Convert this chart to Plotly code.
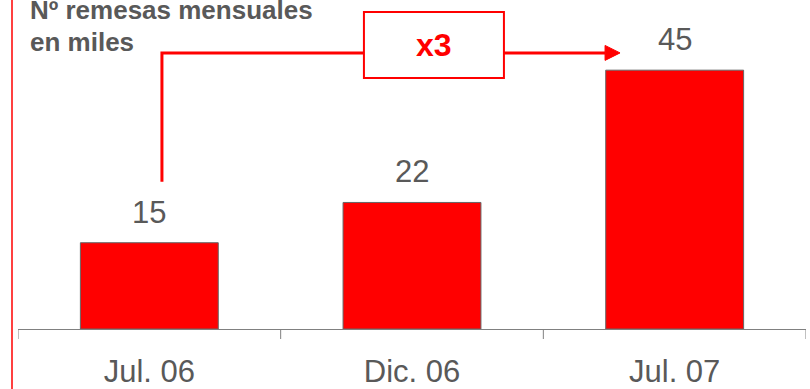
import plotly.graph_objects as go

categories = ["Jul. 06", "Dic. 06", "Jul. 07"]
values = [15, 22, 45]
growth_label = "x3"
title_lines = ["Nº remesas mensuales", "en miles"]

RED = "#ff0000"
GRAY = "#595959"
FONT = "Liberation Sans, Arial, sans-serif"

fig = go.Figure()
fig.add_trace(go.Bar(
    x=list(range(len(categories))), y=values,
    width=0.525,
    marker=dict(color=RED, line=dict(color="#666666", width=1)),
    hoverinfo="skip",
))

# value labels
for i, v in enumerate(values):
    fig.add_annotation(x=i, y=v, xref="x", yref="y", text=str(v),
                       showarrow=False, yanchor="bottom", yshift=11,
                       font=dict(family=FONT, size=31, color=GRAY))

# growth connector (from first bar towards last bar)
x_start = 0.048
y_low = values[0] + 10.6
y_line = 48.0
box_x0, box_x1 = 0.817, 1.350
box_y0, box_y1 = 43.65, 55.1
tip_x = 1.792
head_len = 0.057
head_half = 1.3

fig.add_shape(type="path", xref="x", yref="y",
              path=f"M {x_start},{y_low} L {x_start},{y_line} L {box_x0},{y_line}",
              line=dict(color=RED, width=3))
fig.add_shape(type="line", xref="x", yref="y",
              x0=box_x1, x1=tip_x - head_len, y0=y_line, y1=y_line,
              line=dict(color=RED, width=3))
fig.add_shape(type="path", xref="x", yref="y",
              path=f"M {tip_x - head_len},{y_line - head_half} L {tip_x},{y_line} L {tip_x - head_len},{y_line + head_half} Z",
              fillcolor=RED, line=dict(color=RED, width=1))
fig.add_shape(type="rect", xref="x", yref="y",
              x0=box_x0, x1=box_x1, y0=box_y0, y1=box_y1,
              fillcolor="white", line=dict(color=RED, width=2))
fig.add_annotation(x=(box_x0 + box_x1) / 2, y=(box_y0 + box_y1) / 2,
                   xref="x", yref="y", text=f"<b>{growth_label}</b>",
                   showarrow=False, font=dict(family=FONT, size=32, color=RED))

# title (two lines)
for k, line in enumerate(title_lines):
    fig.add_annotation(x=(28 - 18) / 788, y=1, xref="paper", yref="paper",
                       text=f"<b>{line}</b>", showarrow=False,
                       xanchor="left", yanchor="top", align="left",
                       yshift=7 - 32 * k,
                       font=dict(family=FONT, size=26, color=GRAY))

# left red rule
fig.add_shape(type="line", xref="paper", yref="paper",
              x0=-6 / 788, x1=-6 / 788, y0=-0.25, y1=1.1,
              line=dict(color=RED, width=1.5))

fig.update_layout(
    width=810, height=389,
    margin=dict(l=18, r=4, t=0, b=60, autoexpand=False),
    plot_bgcolor="white", paper_bgcolor="white",
    showlegend=False,
    xaxis=dict(range=[-0.5, 2.5], tickmode="array",
               tickvals=list(range(len(categories))), ticktext=categories,
               showline=True, linecolor="#808080", linewidth=1,
               ticks="", showgrid=False, zeroline=False, automargin=False,
               tickfont=dict(family=FONT, size=31, color=GRAY),
               ticklabelstandoff=15),
    yaxis=dict(range=[0, 57.2], visible=False, automargin=False),
)

# boundary ticks on the category axis
for b in [i - 0.5 for i in range(len(categories) + 1)]:
    fig.add_shape(type="line", xref="x", yref="paper",
                  x0=b, x1=b, y0=0, y1=-10 / 329,
                  line=dict(color="#808080", width=1))

fig.write_html("out.html")
